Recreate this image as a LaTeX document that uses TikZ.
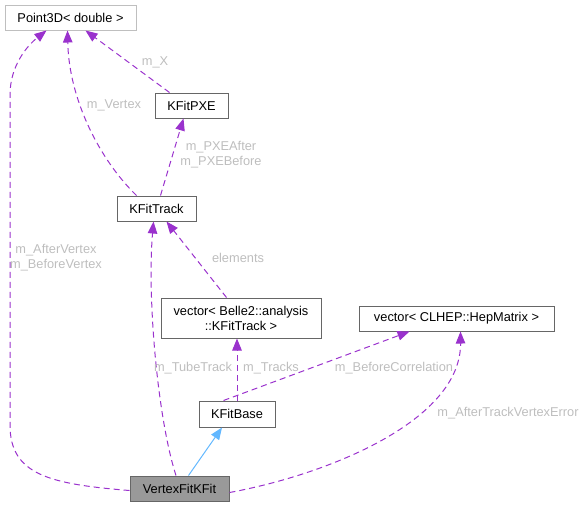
\documentclass[tikz,border=0pt]{standalone}
\usepackage{fontspec}
\setmainfont{Liberation Sans}
\usetikzlibrary{arrows.meta,calc}
\definecolor{edgec}{HTML}{9A32CD}
\definecolor{inhc}{HTML}{63B8FF}
\definecolor{lblc}{HTML}{BEBEBE}
\definecolor{boxc}{HTML}{666666}
\definecolor{boxl}{HTML}{BFBFBF}
\definecolor{curc}{HTML}{999999}
\tikzset{
  cls/.style={draw=boxc, line width=1pt, fill=white, inner sep=0pt, align=center,
    font=\fontsize{12.8}{15}\selectfont, text=black},
  rel/.style={draw=edgec, line width=1pt, dash pattern=on 6pt off 4pt,
    -{Triangle[length=12pt,width=9.5pt]}},
  inh/.style={draw=inhc, line width=1pt, -{Triangle[length=12pt,width=9.5pt,fill=inhc]}},
  lbl/.style={text=lblc, font=\fontsize{12.8}{15}\selectfont, align=center, inner sep=0pt}
}
\begin{document}
\begin{tikzpicture}[x=1pt,y=-1pt]
\useasboundingbox (0,0) rectangle (585,507);
\node[cls, draw=boxl, minimum width=131pt, minimum height=25pt] (P) at (70.5,17.5) {Point3D< double >};
\node[cls, minimum width=73pt, minimum height=25pt] (PXE) at (191.5,105.5) {KFitPXE};
\node[cls, minimum width=79pt, minimum height=25pt] (KT) at (156.5,208.5) {KFitTrack};
\node[cls, minimum width=160pt, minimum height=40pt] (VB) at (241,318) {vector< Belle2::analysis\\::KFitTrack >};
\node[cls, minimum width=195pt, minimum height=25pt] (VC) at (456.5,318.5) {vector< CLHEP::HepMatrix >};
\node[cls, minimum width=76pt, minimum height=26pt] (KB) at (237,414) {KFitBase};
\node[cls, fill=curc, minimum width=99pt, minimum height=25pt] (V) at (179.5,488.5) {VertexFitKFit};

% VertexFitKFit -> Point3D
\draw[rel] ([yshift=-2pt]V.west) .. controls (50,484) and (10,475) .. (10,425)
  -- (10,95) .. controls (10,65) and (28,45) .. ([xshift=42pt]P.south west);
\node[lbl] (l1) at (56,258) {m\_AfterVertex\\m\_BeforeVertex};

% KFitPXE -> Point3D
\draw[rel] ([xshift=15pt]PXE.north west) -- ([xshift=81pt]P.south west);
\node[lbl] (l2) at (155,62) {m\_X};

% KFitTrack -> Point3D
\draw[rel] ([xshift=20pt]KT.north west) .. controls (100,160) and (69,100) .. ([xshift=63pt]P.south west);
\node[lbl] (l3) at (114,105) {m\_Vertex};

% KFitTrack -> KFitPXE
\draw[rel] ([xshift=44pt]KT.north west) -- ([xshift=29pt]PXE.south west);
\node[lbl] (l4) at (221,155) {m\_PXEAfter\\m\_PXEBefore};

% vector Belle2 -> KFitTrack
\draw[rel] ([xshift=66pt]VB.north west) -- ([xshift=50pt]KT.south west);
\node[lbl] (l5) at (238,258) {elements};

% VertexFitKFit -> KFitTrack
\draw[rel] ([xshift=-3.5pt]V.north) .. controls (158,420) and (147,300) .. ([xshift=37pt]KT.south west);
\node[lbl] (l6) at (193,368) {m\_TubeTrack};

% KFitBase -> vector Belle2
\draw[rel] (KB.north) -- ([xshift=-4pt]VB.south);
\node[lbl] (l7) at (271,368) {m\_Tracks};

% KFitBase -> vector CLHEP
\draw[rel] ([xshift=25pt]KB.north west) -- ([xshift=51pt]VC.south west);
\node[lbl] (l8) at (394,368) {m\_BeforeCorrelation};

% VertexFitKFit -> vector CLHEP
\draw[rel] ([yshift=-4pt]V.east) .. controls (330,474) and (461,420) .. ([xshift=102pt]VC.south west);
\node[lbl] (l9) at (508,413) {m\_AfterTrackVertexError};

% inheritance
\draw[inh] ([xshift=9pt]V.north) -- ([xshift=-15pt]KB.south);
\end{tikzpicture}
\end{document}
